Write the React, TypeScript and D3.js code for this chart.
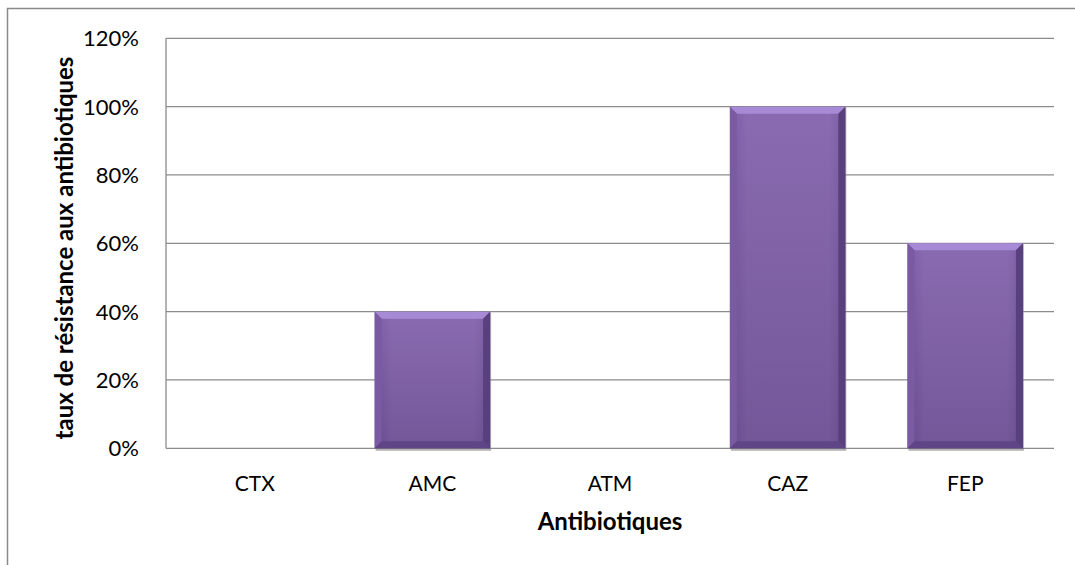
import React from "react";
import * as d3 from "d3";

const categories = ["CTX", "AMC", "ATM", "CAZ", "FEP"];
const values = [0, 0.4, 0, 1.0, 0.6];
const yTicks = [0, 0.2, 0.4, 0.6, 0.8, 1.0, 1.2];

const W = 1075;
const H = 565;
const plot = { left: 166, right: 1054, top: 38.3, bottom: 448.3 };
const FONT = "Lato, 'Open Sans', sans-serif";

export default function App() {
  const x = d3
    .scaleBand<string>()
    .domain(categories)
    .range([plot.left, plot.right])
    .paddingInner(0.35)
    .paddingOuter(0.175);
  const y = d3.scaleLinear().domain([0, 1.2]).range([plot.bottom, plot.top]);
  const fmt = d3.format(".0%");
  const bev = 7;

  return (
    <svg
      width={W}
      height={H}
      style={{ position: "absolute", left: 0, top: 0, background: "#fff" }}
    >
      <defs>
        <linearGradient id="barBody" x1="0" y1="0" x2="0" y2="1">
          <stop offset="0" stopColor="#8463ae" />
          <stop offset="1" stopColor="#6c4e93" />
        </linearGradient>
        <linearGradient id="barSide" x1="0" y1="0" x2="1" y2="0">
          <stop offset="0" stopColor="#000" stopOpacity={0.04} />
          <stop offset="0.15" stopColor="#fff" stopOpacity={0.05} />
          <stop offset="0.85" stopColor="#fff" stopOpacity={0.05} />
          <stop offset="1" stopColor="#000" stopOpacity={0.08} />
        </linearGradient>
      </defs>

      {/* chart frame */}
      <rect
        x={7.5}
        y={8.5}
        width={1090}
        height={580}
        fill="none"
        stroke="#8a8a8a"
        strokeWidth={1.5}
      />

      {/* gridlines */}
      {yTicks.map((t) => (
        <line
          key={t}
          x1={plot.left}
          x2={plot.right}
          y1={y(t)}
          y2={y(t)}
          stroke="#8c8c8c"
          strokeWidth={1.3}
        />
      ))}
      <line
        x1={plot.left}
        x2={plot.left}
        y1={plot.top}
        y2={plot.bottom}
        stroke="#8c8c8c"
        strokeWidth={1.3}
      />

      {/* y tick labels */}
      {yTicks.map((t) => (
        <text
          key={t}
          x={139}
          y={y(t)}
          dy="0.36em"
          textAnchor="end"
          fontFamily={FONT}
          fontSize={22}
          fill="#000"
        >
          {fmt(t)}
        </text>
      ))}

      {/* bars */}
      {categories.map((c, i) => {
        const v = values[i];
        if (v <= 0) return null;
        const x0 = x(c)!;
        const x1 = x0 + x.bandwidth();
        const y0 = y(v);
        const y1 = y(0);
        return (
          <g key={c}>
            <rect
              x={x0 + 1}
              y={y0 + 1}
              width={x1 - x0}
              height={y1 - y0 + 1.5}
              fill="#777"
              opacity={0.55}
            />
            <rect x={x0} y={y0} width={x1 - x0} height={y1 - y0} fill="url(#barBody)" />
            <rect x={x0} y={y0} width={x1 - x0} height={y1 - y0} fill="url(#barSide)" />
            {/* top bevel */}
            <polygon
              points={`${x0},${y0} ${x1},${y0} ${x1 - bev},${y0 + bev} ${x0 + bev},${y0 + bev}`}
              fill="#a78ad6"
            />
            {/* left bevel */}
            <polygon
              points={`${x0},${y0} ${x0 + bev},${y0 + bev} ${x0 + bev},${y1 - bev} ${x0},${y1}`}
              fill="#7a5aa3"
            />
            {/* right bevel */}
            <polygon
              points={`${x1},${y0} ${x1 - bev},${y0 + bev} ${x1 - bev},${y1 - bev} ${x1},${y1}`}
              fill="#58407c"
            />
            {/* bottom bevel */}
            <polygon
              points={`${x0},${y1} ${x0 + bev},${y1 - bev} ${x1 - bev},${y1 - bev} ${x1},${y1}`}
              fill="#5f4586"
            />
          </g>
        );
      })}

      {/* x tick labels */}
      {categories.map((c) => (
        <text
          key={c}
          x={x(c)! + x.bandwidth() / 2}
          y={491}
          textAnchor="middle"
          fontFamily={FONT}
          fontSize={21}
          fill="#000"
        >
          {c}
        </text>
      ))}

      {/* axis titles */}
      <text
        x={(plot.left + plot.right) / 2}
        y={530}
        textAnchor="middle"
        fontFamily={FONT}
        fontWeight="bold"
        fontSize={24}
        fill="#000"
      >
        Antibiotiques
      </text>
      <text
        transform={`translate(73, 248) rotate(-90)`}
        textAnchor="middle"
        fontFamily={FONT}
        fontWeight="bold"
        fontSize={24}
        fill="#000"
      >
        taux de résistance aux antibiotiques
      </text>
    </svg>
  );
}
